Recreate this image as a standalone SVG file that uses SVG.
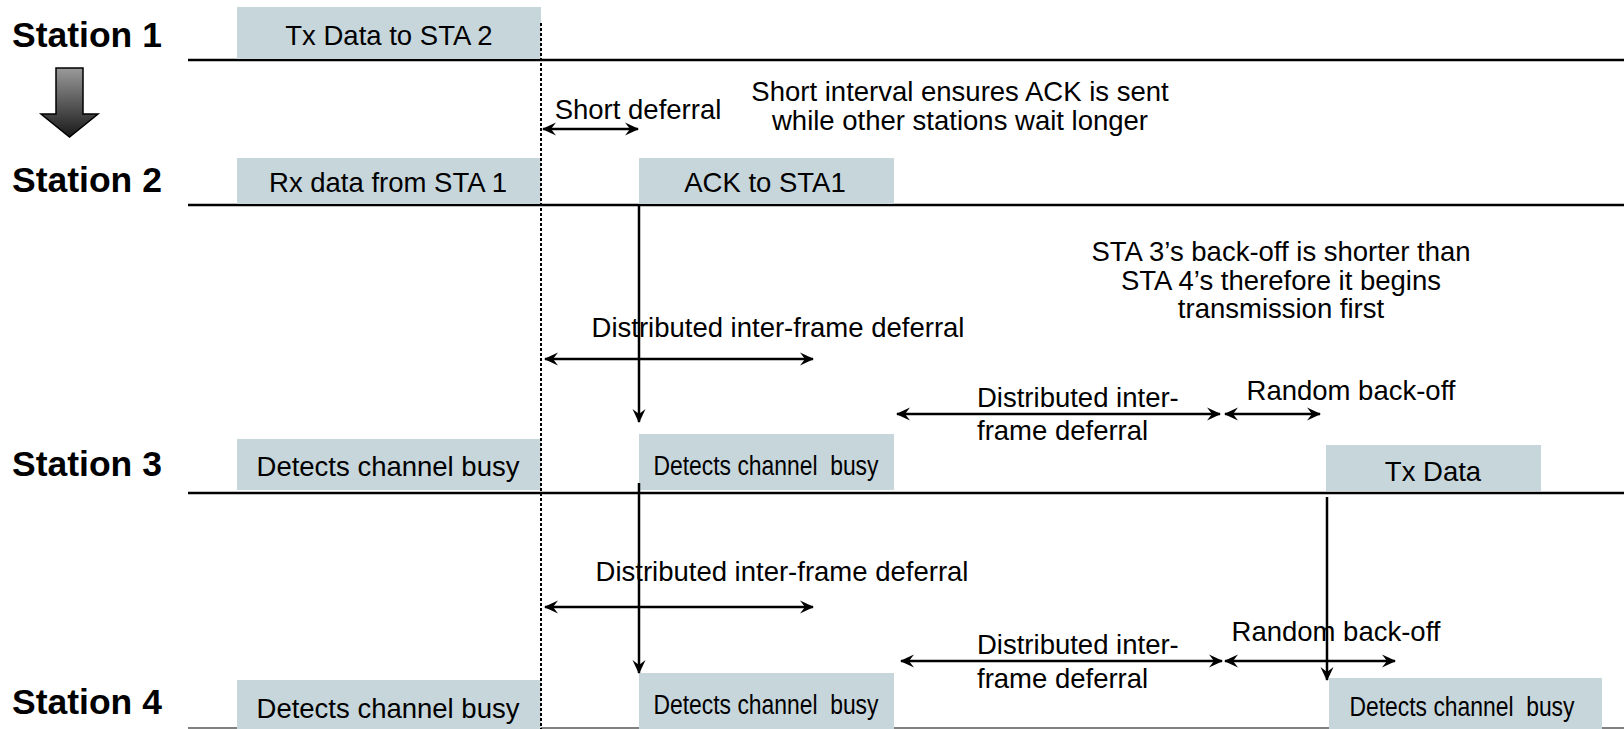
<svg xmlns="http://www.w3.org/2000/svg" width="1624" height="729" viewBox="0 0 1624 729">
<defs>
<style>
.lbl{font-family:"Liberation Sans",Arial,sans-serif;font-size:35.5px;font-weight:bold;fill:#000}
.t{font-family:"Liberation Sans",Arial,sans-serif;font-size:27.5px;fill:#000;white-space:pre}
.c{text-anchor:middle}
.box{fill:#C7D6DB}
.tl{stroke:#000;stroke-width:2.5;fill:none}
.ar{stroke:#000;stroke-width:2.5;fill:none;marker-end:url(#ah)}
.ar2{stroke:#000;stroke-width:2.5;fill:none;marker-start:url(#ah);marker-end:url(#ah)}
</style>
<marker id="ah" viewBox="0 0 14 14" refX="13" refY="7" markerWidth="14" markerHeight="14" markerUnits="userSpaceOnUse" orient="auto-start-reverse">
<path d="M0,0.5 L14,7 L0,13.5 L5,7 Z" fill="#000"/>
</marker>
<linearGradient id="dg" x1="0" y1="0" x2="0" y2="1">
<stop offset="0" stop-color="#9a9a9a"/>
<stop offset="1" stop-color="#1a1a1a"/>
</linearGradient>
</defs>

<g id="timelines">
<line class="tl" x1="188" y1="60" x2="1624" y2="60"/>
<line class="tl" x1="188" y1="205" x2="1624" y2="205"/>
<line class="tl" x1="188" y1="493" x2="1624" y2="493"/>
<line x1="188" y1="728" x2="1624" y2="728" stroke="#808080" stroke-width="2"/>
</g>

<g id="station-labels">
<text class="lbl" x="12" y="47">Station 1</text>
<text class="lbl" x="12" y="192">Station 2</text>
<text class="lbl" x="12" y="476">Station 3</text>
<text class="lbl" x="12" y="714">Station 4</text>
</g>

<g id="down-arrow">
<path d="M56,68 H83 V114 H98 L69.5,137 L41,114 H56 Z" fill="url(#dg)" stroke="#000" stroke-width="1.5"/>
</g>

<g id="sta1-tx">
<rect class="box" x="237" y="7" width="304" height="52"/>
<text class="t c" x="389" y="45">Tx Data to STA 2</text>
</g>
<g id="sta2-rx">
<rect class="box" x="237" y="158" width="304" height="46"/>
<text class="t c" x="388" y="192">Rx data from STA 1</text>
</g>
<g id="sta2-ack">
<rect class="box" x="639" y="158" width="255" height="46"/>
<text class="t c" x="765" y="192">ACK to STA1</text>
</g>
<g id="sta3-busy1">
<rect class="box" x="237" y="439" width="304" height="51"/>
<text class="t c" x="388" y="476">Detects channel busy</text>
</g>
<g id="sta3-busy2">
<rect class="box" x="639" y="434" width="255" height="56"/>
<text class="t c" x="766" y="475" textLength="225" lengthAdjust="spacingAndGlyphs">Detects channel  busy</text>
</g>
<g id="sta3-tx">
<rect class="box" x="1326" y="445" width="215" height="46"/>
<text class="t c" x="1433" y="481">Tx Data</text>
</g>
<g id="sta4-busy1">
<rect class="box" x="237" y="680" width="304" height="49"/>
<text class="t c" x="388" y="718">Detects channel busy</text>
</g>
<g id="sta4-busy2">
<rect class="box" x="639" y="673" width="255" height="56"/>
<text class="t c" x="766" y="714" textLength="225" lengthAdjust="spacingAndGlyphs">Detects channel  busy</text>
</g>
<g id="sta4-busy3">
<rect class="box" x="1329" y="678" width="273" height="51"/>
<text class="t c" x="1462" y="716" textLength="225" lengthAdjust="spacingAndGlyphs">Detects channel  busy</text>
</g>

<g id="notes">
<text class="t c" x="638" y="119">Short deferral</text>
<text class="t c" x="960" y="101">Short interval ensures ACK is sent</text>
<text class="t c" x="960" y="130">while other stations wait longer</text>
<text class="t c" x="1281" y="261">STA 3’s back-off is shorter than</text>
<text class="t c" x="1281" y="290">STA 4’s therefore it begins</text>
<text class="t c" x="1281" y="318">transmission first</text>
<text class="t c" x="778" y="337">Distributed inter-frame deferral</text>
<text class="t" x="977" y="407">Distributed inter-</text>
<text class="t" x="977" y="440">frame deferral</text>
<text class="t c" x="1351" y="400">Random back-off</text>
<text class="t c" x="782" y="581">Distributed inter-frame deferral</text>
<text class="t" x="977" y="654">Distributed inter-</text>
<text class="t" x="977" y="688">frame deferral</text>
<text class="t c" x="1336" y="641">Random back-off</text>
</g>

<g id="connectors">
<line x1="541" y1="23" x2="541" y2="729" stroke="#000" stroke-width="2" stroke-dasharray="3,2"/>
<line class="ar2" x1="543" y1="129" x2="638" y2="129"/>
<line class="ar" x1="639" y1="205" x2="639" y2="422"/>
<line class="ar2" x1="545" y1="359" x2="813" y2="359"/>
<line class="ar2" x1="897" y1="414" x2="1220" y2="414"/>
<line class="ar2" x1="1225" y1="414" x2="1320" y2="414"/>
<line class="ar" x1="639" y1="483" x2="639" y2="673"/>
<line class="ar2" x1="545" y1="607" x2="813" y2="607"/>
<line class="ar2" x1="901" y1="661" x2="1222" y2="661"/>
<line class="ar2" x1="1225" y1="661" x2="1395" y2="661"/>
<line class="ar" x1="1327" y1="497" x2="1327" y2="680"/>
</g>
</svg>
